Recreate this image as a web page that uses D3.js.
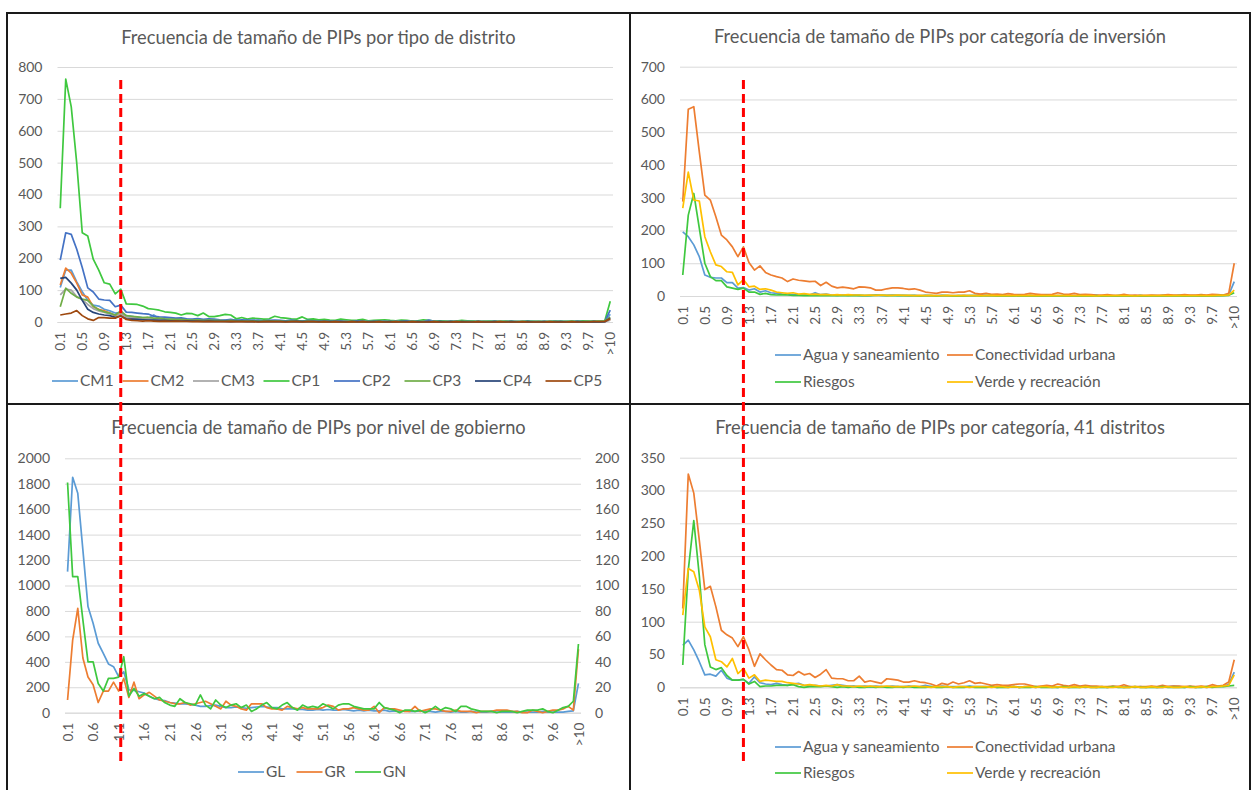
<!DOCTYPE html>
<html>
<head>
<meta charset="utf-8">
<script src="https://cdn.jsdelivr.net/npm/d3@7/dist/d3.min.js"></script>
<style>
body { margin: 0; background: #fff; }
svg text { font-family: Lato, "Open Sans", sans-serif; fill: #595959; }
</style>
</head>
<body>
<svg id="chart" width="1252" height="790"></svg>
<script>
// categorias del eje x: 0.1 ... 10.0 y ">10"
var categories = [];
for (var i = 1; i <= 100; i++) categories.push((i / 10).toFixed(1));
categories.push(">10");

// ---- panel 1: tipo de distrito ----
var cm1 = [108,163,163,126,95,68,53,50,40,35, 28,30,20,18,15,14,12,22,10,9, 8,10,7,8,6,9,5,6,5,4, 5,4,6,3,4,5,3,4,3,3,
  4,3,2,3,2,3,2,2,3,2, 2,3,2,2,1,2,2,1,2,1, 2,1,1,2,1,1,2,1,1,1, 1,1,2,1,1,1,1,1,1,1, 1,1,1,1,1,1,1,1,1,1, 1,1,1,1,1,1,1,1,1,1, 24];
var cm2 = [116,169,153,122,85,78,48,40,35,28, 20,26,15,12,10,9,8,7,8,6, 7,5,6,4,5,4,3,9,3,4, 3,2,3,2,3,2,2,3,2,2,
  2,1,2,2,1,2,1,2,1,1, 1,2,1,1,1,1,2,1,1,1, 1,1,1,1,1,1,1,0,1,1, 0,1,1,0,1,1,0,1,0,1, 1,0,1,0,0,1,0,1,0,0, 1,0,0,1,0,0,1,0,0,1, 8];
var cm3 = [85,103,100,80,70,55,42,35,30,26, 22,24,15,14,12,11,10,9,8,7, 6,6,5,5,4,5,4,3,3,3, 2,3,2,2,3,2,2,1,2,2,
  1,2,1,1,2,1,1,1,2,1, 1,1,1,2,1,1,1,1,1,1, 1,1,0,1,1,1,0,1,1,0, 1,0,1,1,0,1,0,1,0,1, 0,1,0,1,0,0,1,0,1,0, 0,1,0,0,1,0,1,0,1,1, 6];
var cp1 = [357,762,675,498,280,270,197,163,123,119, 88,103,57,56,55,50,42,40,37,32, 30,28,22,27,26,20,28,17,17,20, 24,22,10,14,9,12,11,9,10,18,
  14,12,10,9,16,8,10,7,8,6, 5,9,7,5,6,8,4,5,6,7, 5,4,6,5,3,4,7,5,3,4, 3,2,3,5,4,3,2,2,3,2, 2,3,2,1,2,3,2,2,1,2, 3,2,2,3,2,4,3,2,2,3, 65];
var cp2 = [194,280,275,228,171,107,94,72,69,68, 48,53,31,30,28,26,25,18,16,15, 14,12,13,10,9,11,8,10,9,7, 6,8,5,7,6,5,6,4,5,6,
  5,4,6,4,3,5,4,3,4,3, 4,3,3,2,4,3,2,3,2,3, 2,3,2,4,3,2,1,6,2,2, 1,2,2,1,2,1,2,1,1,2, 1,1,2,1,1,2,1,1,1,1, 2,1,1,1,2,1,1,2,1,2, 37];
var cp3 = [48,106,90,78,72,68,50,38,32,28, 22,35,20,18,16,14,15,12,12,10, 9,8,8,7,6,7,5,6,5,5, 4,5,4,4,3,4,3,3,4,3,
  3,2,3,3,2,3,2,2,2,2, 2,1,2,2,1,2,1,2,1,1, 2,1,1,1,2,1,1,1,1,1, 1,1,1,2,1,1,1,1,1,1, 1,1,1,1,1,1,1,1,1,1, 1,1,1,1,1,1,2,2,3,4, 15];
var cp4 = [137,140,122,100,68,40,30,25,22,20, 15,18,10,9,8,7,6,6,5,5, 4,4,3,4,3,3,2,3,2,2, 2,1,2,2,1,2,1,1,2,1,
  1,1,1,2,1,1,1,1,1,1, 1,1,0,1,1,1,0,1,1,0, 1,0,1,1,0,1,0,1,0,1, 0,1,0,1,0,0,1,0,0,1, 0,0,1,0,0,1,0,0,1,0, 0,1,0,0,1,0,0,1,0,1, 12];
var cp5 = [22,25,28,36,20,10,5,14,14,12, 12,20,8,5,4,3,4,3,2,3, 2,3,2,2,1,2,1,2,1,1, 1,2,1,1,1,1,0,1,1,1,
  1,0,1,1,0,1,1,0,1,0, 1,0,0,1,0,1,0,0,1,0, 0,1,0,0,1,0,0,0,1,0, 0,0,1,0,0,0,1,0,0,0, 1,0,0,0,1,0,0,0,0,1, 0,0,0,1,0,0,0,1,1,2, 10];

// ---- panel 2: categoria de inversion ----
var invAgua = [196,181,156,120,64,57,55,55,41,41, 24,26,18,22,12,16,10,8,6,5, 4,3,4,3,10,4,6,3,2,3, 2,3,2,1,2,3,2,2,3,2,
  2,1,2,1,2,1,1,2,1,1, 1,2,1,1,4,1,1,1,1,1, 1,1,1,1,1,0,1,1,1,1, 1,1,0,1,1,1,0,1,1,0, 1,1,0,1,0,1,1,0,1,1, 1,0,1,1,0,1,1,1,2,3, 44];
var invConect = [288,570,578,440,308,293,242,186,171,150, 120,150,102,79,92,72,64,59,55,44, 52,48,46,44,45,32,42,30,25,27, 25,22,28,27,25,18,18,22,25,25,
  23,20,22,18,12,10,8,12,12,10, 12,12,16,8,6,8,5,6,4,7, 5,4,5,8,6,4,4,5,10,6, 5,8,4,5,4,3,3,4,2,2, 5,2,3,2,2,3,2,3,4,3, 3,4,3,3,4,3,5,4,3,8, 100];
var invRiesgos = [64,247,313,207,100,59,47,47,28,24, 20,24,12,12,5,8,4,3,4,3, 2,2,1,2,1,2,1,1,1,1, 1,1,2,1,1,2,2,1,1,1,
  1,1,1,0,1,1,0,1,1,0, 1,0,1,1,0,1,1,0,1,0, 0,1,0,1,0,0,1,0,0,1, 0,0,1,0,0,1,0,0,0,1, 0,0,0,1,0,0,0,1,0,0, 1,0,0,0,1,0,0,1,1,2, 10];
var invVerde = [268,378,293,290,181,135,95,90,74,72, 34,50,28,30,20,22,18,12,10,8, 10,6,7,5,6,4,5,3,4,3, 4,3,3,2,3,2,3,2,2,3,
  2,2,1,2,1,2,1,1,2,1, 1,2,1,1,1,1,2,1,1,1, 1,1,1,2,1,1,1,1,2,1, 1,1,1,1,1,0,1,1,1,1, 1,1,0,1,1,1,1,1,1,1, 1,1,1,1,1,1,1,2,2,3, 18];

// ---- panel 3: nivel de gobierno (GR y GN en eje secundario) ----
var gobGL = [1109,1851,1725,1280,834,703,546,467,383,362, 283,322,180,175,165,155,130,110,100,95, 80,75,70,70,65,60,50,50,55,60, 50,40,40,45,40,35,40,45,50,45,
  40,40,30,30,30,25,25,20,20,25, 20,25,20,20,25,20,15,20,15,20, 15,15,20,10,15,10,15,10,10,15, 10,10,5,10,10,5,10,5,5,10, 5,5,5,10,5,5,5,5,10,5, 5,5,5,10,5,5,5,5,10,15, 230];
var gobGR = [10,57,82,43,28,22,8,17,17,24, 17,27,12,24,11,14,16,13,10,9, 8,7,7,8,6,7,8,9,7,5, 3,9,6,5,3,2,7,7,7,4,
  3,3,2,5,4,3,4,3,3,3, 4,6,5,2,3,3,4,3,2,2, 5,0,4,3,3,2,1,1,5,1, 2,3,3,2,1,1,2,1,1,1, 0,1,1,1,2,2,2,1,1,0, 0,2,1,0,1,2,2,3,5,2, 50];
var gobGN = [181,107,107,73,40,40,23,17,27,27, 28,44,13,19,13,15,13,11,12,8, 6,5,11,8,7,6,14,6,3,10, 6,4,6,7,4,6,1,3,6,8,
  4,3,6,8,4,2,6,4,5,4, 7,5,3,6,7,7,5,4,3,3, 3,8,4,3,2,0,2,2,1,2, 0,2,5,2,4,3,1,5,5,3, 2,1,1,1,0,1,1,1,0,1, 2,2,2,3,1,0,2,4,5,9, 54];

// ---- panel 4: categoria, 41 distritos ----
var d41Agua = [64,72,57,39,19,20,17,26,14,11, 11,12,6,16,7,5,4,6,4,3, 5,6,3,2,3,2,2,3,4,3, 2,2,1,2,1,2,1,1,2,1,
  1,2,1,1,3,1,1,2,1,1, 1,1,2,1,1,1,1,0,1,1, 1,0,1,1,0,1,1,1,0,1, 0,1,1,0,1,0,1,0,1,1, 0,1,0,1,0,1,0,0,1,2, 1,0,1,0,1,0,1,1,2,4, 23];
var d41Conect = [120,325,296,224,149,154,123,87,80,75, 62,77,57,32,51,42,34,27,26,19, 18,24,19,21,15,20,27,14,13,13, 10,10,17,8,10,8,6,13,12,11,
  8,8,10,8,7,5,2,6,4,8, 5,7,10,6,7,5,3,4,3,3, 4,5,5,3,1,2,3,2,5,3, 2,4,2,3,2,2,1,1,2,1, 4,1,1,1,1,2,1,3,1,2, 2,1,2,1,2,1,4,2,3,8, 42];
var d41Riesgos = [34,179,254,170,65,31,27,30,18,11, 11,12,5,9,1,2,2,3,3,3, 4,1,0,1,1,1,2,1,0,1, 0,1,0,0,1,0,1,0,0,1,
  0,1,0,0,0,1,0,0,1,0, 0,0,1,0,0,0,1,0,0,0, 1,0,0,0,1,0,0,0,0,1, 0,0,0,1,0,0,0,0,1,0, 0,0,1,0,0,0,0,1,0,0, 0,0,1,0,0,1,0,1,1,2, 3];
var d41Verde = [110,181,176,148,92,77,42,39,31,44, 21,29,14,19,9,11,10,9,9,7, 6,5,3,4,3,2,3,2,4,2, 2,1,2,1,2,1,1,2,1,1,
  1,1,2,1,1,0,1,1,1,0, 1,1,0,1,1,1,0,1,1,0, 1,0,1,1,0,1,1,0,1,0, 0,1,0,1,0,0,1,0,0,1, 0,0,1,0,0,1,0,0,1,0, 0,1,0,0,1,0,1,1,2,3, 19];

var svg = d3.select("#chart");
var cBlue = "#5B9BD5", cOrange = "#ED7D31", cGray = "#A5A5A5", cGreen = "#3FC83F",
    cBlue2 = "#4472C4", cGreen2 = "#70AD47", cNavy = "#264478", cBrown = "#9E480E", cYellow = "#FFC000";

var panels = [
  {
    frame: [7, 13, 623, 391],
    plot: {left: 57.5, right: 613, top: 67, bottom: 322},
    title: "Frecuencia de tamaño de PIPs por tipo de distrito", titleY: 44,
    yMax: 800, yStep: 100, every: 4,
    series: [
      {name: "CM1", values: cm1, color: cBlue},
      {name: "CM2", values: cm2, color: cOrange},
      {name: "CM3", values: cm3, color: cGray},
      {name: "CP1", values: cp1, color: cGreen},
      {name: "CP2", values: cp2, color: cBlue2},
      {name: "CP3", values: cp3, color: cGreen2},
      {name: "CP4", values: cp4, color: cNavy},
      {name: "CP5", values: cp5, color: cBrown}
    ],
    legend: {x: 52, y: 381, colW: 70.5, rowH: 0, cols: 8}
  },
  {
    frame: [630, 13, 620, 391],
    plot: {left: 680, right: 1237, top: 66.7, bottom: 296},
    title: "Frecuencia de tamaño de PIPs por categoría de inversión", titleY: 43,
    yMax: 700, yStep: 100, every: 4,
    series: [
      {name: "Agua y saneamiento", values: invAgua, color: cBlue},
      {name: "Conectividad urbana", values: invConect, color: cOrange},
      {name: "Riesgos", values: invRiesgos, color: cGreen},
      {name: "Verde y recreación", values: invVerde, color: cYellow}
    ],
    legend: {x: 775, y: 355, colW: 172, rowH: 27, cols: 2}
  },
  {
    frame: [7, 404, 623, 390],
    plot: {left: 65, right: 581, top: 458.3, bottom: 712.7},
    title: "Frecuencia de tamaño de PIPs por nivel de gobierno", titleY: 434,
    yMax: 2000, yStep: 200, every: 5, y2Max: 200, y2Step: 20,
    series: [
      {name: "GL", values: gobGL, color: cBlue},
      {name: "GR", values: gobGR, color: cOrange, secondary: true},
      {name: "GN", values: gobGN, color: cGreen, secondary: true}
    ],
    legend: {x: 238, y: 772, colW: 58.5, rowH: 0, cols: 3}
  },
  {
    frame: [630, 404, 620, 390],
    plot: {left: 680, right: 1237, top: 457.7, bottom: 687.3},
    title: "Frecuencia de tamaño de PIPs por categoría, 41 distritos", titleY: 434,
    yMax: 350, yStep: 50, every: 4,
    series: [
      {name: "Agua y saneamiento", values: d41Agua, color: cBlue},
      {name: "Conectividad urbana", values: d41Conect, color: cOrange},
      {name: "Riesgos", values: d41Riesgos, color: cGreen},
      {name: "Verde y recreación", values: d41Verde, color: cYellow}
    ],
    legend: {x: 775, y: 747, colW: 172, rowH: 26, cols: 2}
  }
];

var xScales = [];
panels.forEach(function(p) { xScales.push(drawPanel(p)); });

function drawPanel(p) {
  var g = svg.append("g");
  // marco
  g.append("rect")
    .attr("x", p.frame[0]).attr("y", p.frame[1])
    .attr("width", p.frame[2]).attr("height", p.frame[3])
    .attr("fill", "#fff").attr("stroke", "#1a1a1a").attr("stroke-width", 2);

  // titulo centrado en el marco
  g.append("text")
    .attr("x", p.frame[0] + p.frame[2] / 2)
    .attr("y", p.titleY)
    .attr("text-anchor", "middle")
    .attr("font-size", "18.3px")
    .text(p.title);

  var x = d3.scalePoint().domain(categories)
    .range([p.plot.left, p.plot.right]).padding(0.5);
  var y = d3.scaleLinear().domain([0, p.yMax]).range([p.plot.bottom, p.plot.top]);
  var y2 = p.y2Max ? d3.scaleLinear().domain([0, p.y2Max]).range([p.plot.bottom, p.plot.top]) : null;

  // rejilla + eje y
  var yAxis = d3.axisLeft(y)
    .tickValues(d3.range(0, p.yMax + 1, p.yStep))
    .tickFormat(d3.format("d"))
    .tickSize(-(p.plot.right - p.plot.left))
    .tickPadding(15);
  var gy = g.append("g").attr("transform", "translate(" + p.plot.left + ",0)").call(yAxis);
  gy.select(".domain").remove();
  gy.selectAll("line").attr("stroke", "#D9D9D9");
  gy.selectAll("text").attr("font-size", "14px").attr("fill", "#595959");

  if (y2) {
    var gy2 = g.append("g").attr("transform", "translate(" + p.plot.right + ",0)")
      .call(d3.axisRight(y2).tickValues(d3.range(0, p.y2Max + 1, p.y2Step)).tickSize(0).tickPadding(14));
    gy2.select(".domain").remove();
    gy2.selectAll("text").attr("font-size", "14px").attr("fill", "#595959");
  }

  // eje x
  var xAxis = d3.axisBottom(x)
    .tickValues(categories.filter(function(d, i) { return i % p.every === 0; }))
    .tickSize(0).tickSizeOuter(0);
  var gx = g.append("g").attr("transform", "translate(0," + p.plot.bottom + ")").call(xAxis);
  gx.select(".domain").attr("stroke", "#D9D9D9")
    .attr("d", "M" + p.plot.left + ",0.5H" + p.plot.right);
  gx.selectAll("text")
    .attr("font-size", "13.5px").attr("fill", "#595959")
    .attr("text-anchor", "end")
    .attr("transform", "rotate(-90)")
    .attr("x", -10).attr("y", 0).attr("dy", "0.35em");

  // lineas
  var line = d3.line()
    .x(function(d, i) { return x(categories[i]); });
  p.series.forEach(function(s) {
    var ys = s.secondary ? y2 : y;
    g.append("path")
      .datum(s.values)
      .attr("d", line.y(function(d) { return ys(d); }))
      .attr("fill", "none")
      .attr("stroke", s.color)
      .attr("stroke-width", 1.7)
      .attr("stroke-linejoin", "round");
  });

  // leyenda
  var lg = g.append("g");
  p.series.forEach(function(s, i) {
    var col = i % p.legend.cols, row = Math.floor(i / p.legend.cols);
    var lx = p.legend.x + col * p.legend.colW, ly = p.legend.y + row * p.legend.rowH;
    lg.append("line")
      .attr("x1", lx).attr("x2", lx + 26).attr("y1", ly).attr("y2", ly)
      .attr("stroke", s.color).attr("stroke-width", 1.7);
    lg.append("text")
      .attr("x", lx + 28).attr("y", ly).attr("dy", "0.35em")
      .attr("font-size", "15.5px")
      .text(s.name);
  });
  return x;
}

// linea punteada roja en 1.2 que cruza los graficos de arriba y abajo
[0, 1].forEach(function(k) {
  var xr = xScales[k]("1.2");
  svg.append("line")
    .attr("x1", xr).attr("x2", xr).attr("y1", 80).attr("y2", 763)
    .attr("stroke", "#FF0000").attr("stroke-width", 3)
    .attr("stroke-dasharray", "9,5");
});
</script>
</body>
</html>
